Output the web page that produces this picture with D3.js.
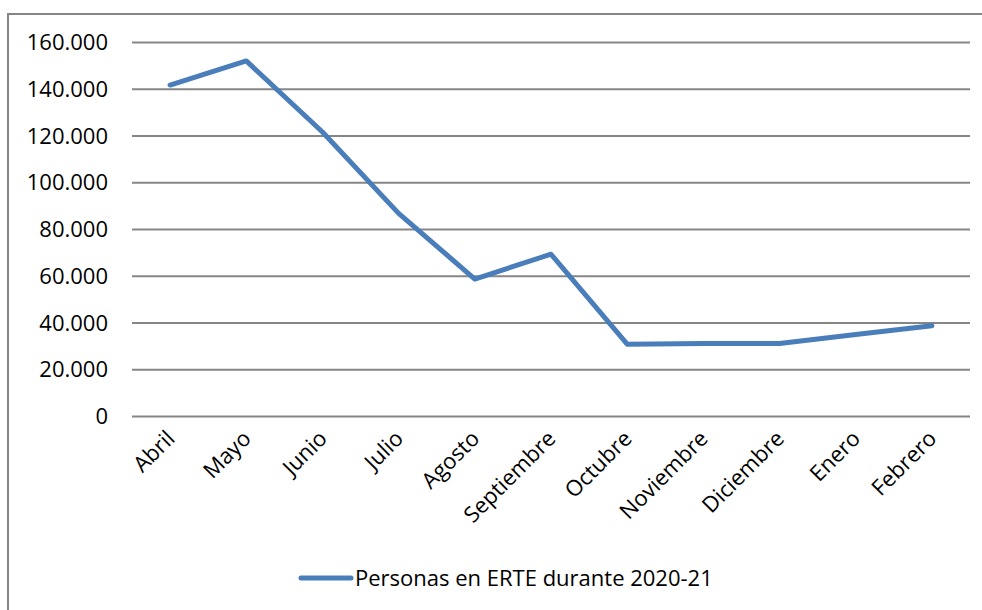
<!DOCTYPE html>
<html><head><meta charset="utf-8">
<script src="https://cdn.jsdelivr.net/npm/d3@7"></script>
<style>body{margin:0;background:#fff}svg{display:block}</style>
</head><body>
<svg id="c" width="982" height="610"></svg>
<script>
const categories = ["Abril","Mayo","Junio","Julio","Agosto","Septiembre","Octubre","Noviembre","Diciembre","Enero","Febrero"];
const values = [141600, 151900, 121500, 86700, 58600, 69200, 30700, 31000, 31000, 34900, 38600];
const yTicks = [0,20000,40000,60000,80000,100000,120000,140000,160000];
const seriesName = "Personas en ERTE durante 2020-21";

(function(){
const svg = d3.select("#c");
const font = "'Open Sans', sans-serif";
const fs = 22;
const pL = 132, pR = 970, pT = 42, pB = 416;
const x = d3.scaleBand().domain(categories).range([pL, pR]);
const y = d3.scaleLinear().domain([0,160000]).range([pB, pT]);
const fmt = v => d3.format(",")(v).replace(/,/g, ".");

svg.append("rect").attr("x",8).attr("y",14).attr("width",1000).attr("height",700)
  .attr("fill","none").attr("stroke","#868686").attr("stroke-width",2);

const yAxis = d3.axisLeft(y).tickValues(yTicks).tickFormat(fmt).tickSize(-(pR-pL)).tickPadding(24);
const gy = svg.append("g").attr("transform",`translate(${pL},0)`).call(yAxis);
gy.select(".domain").remove();
gy.selectAll(".tick line").attr("stroke","#868686").attr("stroke-width",2);
gy.selectAll(".tick text").attr("font-family",font).attr("font-size",fs).attr("fill","#000").attr("dy","0.35em");

const xAxis = d3.axisBottom(x).tickSize(0).tickPadding(0);
const gx = svg.append("g").attr("transform",`translate(0,${pB})`).call(xAxis);
gx.select(".domain").remove();
gx.selectAll(".tick text").attr("font-family",font).attr("font-size",fs).attr("fill","#000")
  .attr("text-anchor","end").attr("dy",null).attr("y",0)
  .attr("transform","translate(6,24) rotate(-45)");

const line = d3.line().x((d,i)=>x(categories[i])+x.bandwidth()/2).y(d=>y(d));
svg.append("path").datum(values).attr("d",line).attr("fill","none")
  .attr("stroke","#4a7ebb").attr("stroke-width",5).attr("stroke-linejoin","round").attr("stroke-linecap","round");

const lg = svg.append("g");
lg.append("line").attr("x1",301).attr("x2",351).attr("y1",578).attr("y2",578)
  .attr("stroke","#4a7ebb").attr("stroke-width",5).attr("stroke-linecap","round");
lg.append("text").attr("x",355).attr("y",578).attr("dy","0.35em").attr("font-family",font)
  .attr("font-size",fs).attr("fill","#000").text(seriesName);
})();
</script>
</body></html>
